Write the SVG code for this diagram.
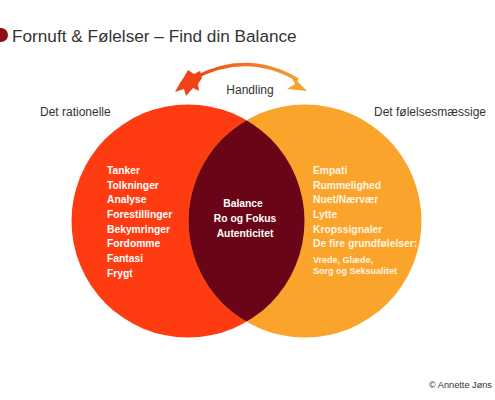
<svg xmlns="http://www.w3.org/2000/svg" width="495" height="400" viewBox="0 0 495 400">
<defs>
<style>
.t{font-family:"Liberation Sans",Arial,sans-serif;fill:#333}
.w{font-family:"Liberation Sans",Arial,sans-serif;font-weight:bold;font-size:10.3px;fill:#fff}
.c{fill:#FFF4E2}
</style>
<linearGradient id="g" x1="0" y1="0" x2="1" y2="0">
<stop offset="0" stop-color="#F04418"/>
<stop offset="1" stop-color="#F6A030"/>
</linearGradient>
<clipPath id="lc"><circle cx="188" cy="221" r="116.5"/></clipPath>
</defs>
<rect width="495" height="400" fill="#fff"/>
<circle cx="1" cy="35" r="7" fill="#8E0C16"/>
<text class="t" x="12" y="42" font-size="17.2">Fornuft &amp; Følelser – Find din Balance</text>

<g id="rationel">
<circle cx="188" cy="221" r="116.5" fill="#FF3B12"/>
<text class="t" x="40" y="116" font-size="12">Det rationelle</text>
</g>
<g id="foelelse">
<circle cx="305" cy="221" r="116.5" fill="#FBA42B"/>
<text class="t" x="374" y="116" font-size="12">Det følelsesmæssige</text>
</g>
<g id="balance">
<circle cx="305" cy="221" r="116.5" fill="#6A0517" clip-path="url(#lc)"/>
<text class="w" text-anchor="middle" font-size="10.5"><tspan x="243" y="207">Balance</tspan><tspan x="245" y="221.7">Ro og Fokus</tspan><tspan x="245" y="236.7">Autenticitet</tspan></text>
</g>
<g id="venstre-liste">
<text class="w"><tspan x="107" y="174">Tanker</tspan><tspan x="107" y="188.7">Tolkninger</tspan><tspan x="107" y="203.3">Analyse</tspan><tspan x="107" y="218">Forestillinger</tspan><tspan x="107" y="232.7">Bekymringer</tspan><tspan x="107" y="247.3">Fordomme</tspan><tspan x="107" y="262">Fantasi</tspan><tspan x="107" y="276.7">Frygt</tspan></text>
</g>
<g id="hoejre-liste">
<text class="w c"><tspan x="313" y="174">Empati</tspan><tspan x="313" y="188.7">Rummelighed</tspan><tspan x="313" y="203.3">Nuet/Nærvær</tspan><tspan x="313" y="218">Lytte</tspan><tspan x="313" y="232.7">Kropssignaler</tspan><tspan x="313" y="247.3">De fire grundfølelser:</tspan></text>
<text class="w c" style="font-size:9px"><tspan x="313" y="262.5">Vrede, Glæde,</tspan><tspan x="313" y="274">Sorg og Seksualitet</tspan></text>
</g>

<g id="connectors">
<path d="M194 78 Q248 50 298 80" fill="none" stroke="url(#g)" stroke-width="3.6"/>
<path d="M188 70 L194 74 L200 71 L202 78 L198 84 L199 91 L193 88 L186 96 L184 89 L175 92 L180 83 L184 77 Z" fill="#F04418"/>
<path d="M290 74 L307 91 L287 89 L295 84 Z" fill="#F6A030"/>
<text class="t" x="250" y="94" font-size="12" text-anchor="middle">Handling</text>
</g>

<text class="t" x="429" y="388" font-size="9.2" fill="#444">© Annette Jøns</text>
</svg>
